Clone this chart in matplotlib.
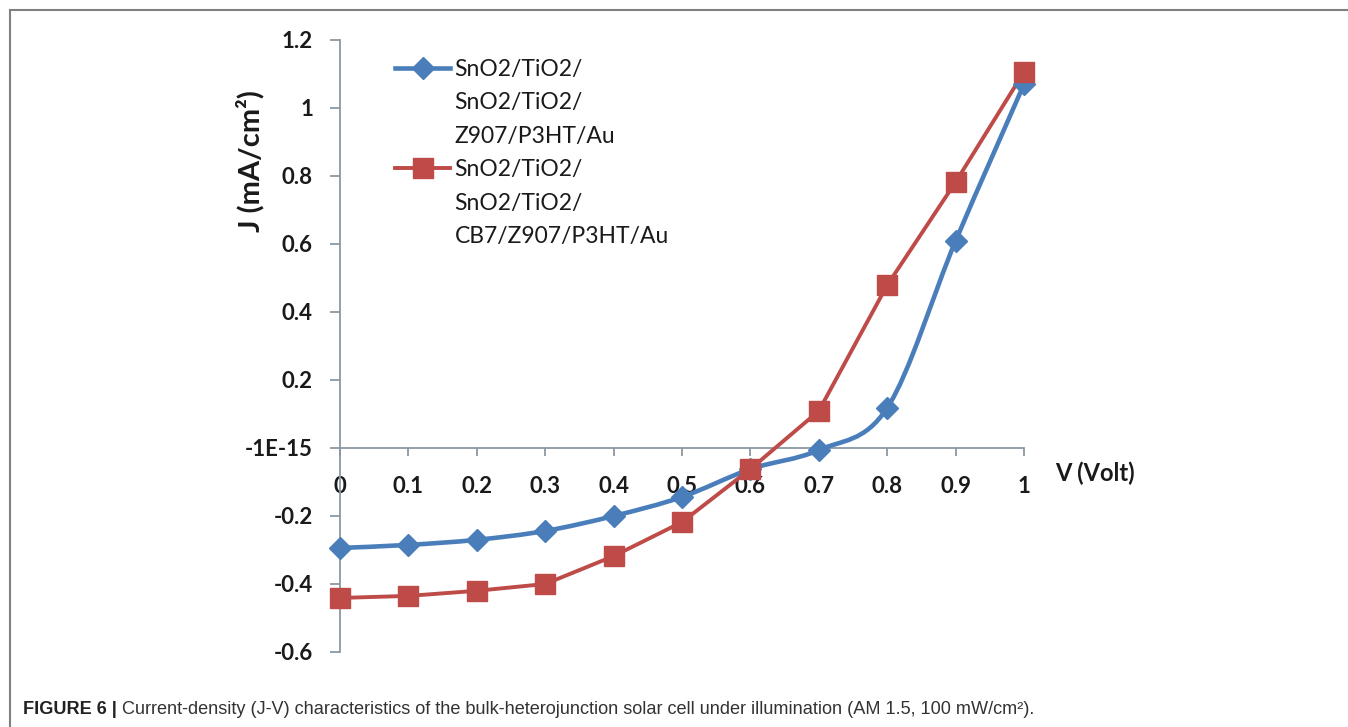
import matplotlib
matplotlib.use("Agg")
import matplotlib.pyplot as plt
from matplotlib.path import Path
from matplotlib.patches import PathPatch
from matplotlib.lines import Line2D
import numpy as np

# ---------------- data ----------------
voltage = [0.0, 0.1, 0.2, 0.3, 0.4, 0.5, 0.6, 0.7, 0.8, 0.9, 1.0]
j_z907 = [-0.294, -0.285, -0.270, -0.244, -0.200, -0.144, -0.062, -0.006, 0.118, 0.609, 1.070]
j_cb7 = [-0.441, -0.435, -0.420, -0.400, -0.318, -0.218, -0.062, 0.109, 0.479, 0.782, 1.106]

series_labels = [
    ["SnO2/TiO2/", "SnO2/TiO2/", "Z907/P3HT/Au"],
    ["SnO2/TiO2/", "SnO2/TiO2/", "CB7/Z907/P3HT/Au"],
]
x_ticks = [0.0, 0.1, 0.2, 0.3, 0.4, 0.5, 0.6, 0.7, 0.8, 0.9, 1.0]
x_tick_labels = ["0", "0.1", "0.2", "0.3", "0.4", "0.5", "0.6", "0.7", "0.8", "0.9", "1"]
y_ticks = [-0.6, -0.4, -0.2, 0.0, 0.2, 0.4, 0.6, 0.8, 1.0, 1.2]
y_tick_labels = ["-0.6", "-0.4", "-0.2", "-1E-15", "0.2", "0.4", "0.6", "0.8", "1", "1.2"]
x_label = "V (Volt)"
y_label = "J (mA/cm²)"
caption_bold = "FIGURE 6 |"
caption_rest = " Current-density (J-V) characteristics of the bulk-heterojunction solar cell under illumination (AM 1.5, 100 mW/cm²)."

BLUE = "#4a7ebb"
RED = "#be4b48"
AXC = "#8a98a4"
W, H = 1348, 727

plt.rcParams["font.family"] = ["Lato", "DejaVu Sans"]

fig = plt.figure(figsize=(W / 100, H / 100), dpi=100)
ax = fig.add_axes([340 / W, 1 - 652 / H, (1024 - 340) / W, (652 - 40) / H])
ax.set_xlim(0, 1)
ax.set_ylim(-0.6, 1.2)


def smooth_path(xs, ys):
    # cubic Bezier through the data points (Excel-like smoothed line)
    pts = np.column_stack([xs, ys])
    n = len(pts)
    verts = [pts[0]]
    codes = [Path.MOVETO]
    for i in range(n - 1):
        p0 = pts[i - 1] if i > 0 else pts[i]
        p1 = pts[i]
        p2 = pts[i + 1]
        p3 = pts[i + 2] if i + 2 < n else pts[i + 1]
        c1 = p1 + (p2 - p0) / 6.0
        c2 = p2 - (p3 - p1) / 6.0
        verts += [c1, c2, p2]
        codes += [Path.CURVE4] * 3
    return Path(verts, codes)


ax.add_patch(PathPatch(smooth_path(voltage, j_z907), facecolor="none",
                       edgecolor=BLUE, lw=3.3, zorder=3, capstyle="round",
                       clip_on=False))
ax.plot(voltage, j_z907, linestyle="none", marker="D", ms=11,
        color=BLUE, mec=BLUE, zorder=4, clip_on=False)

ax.plot(voltage, j_cb7, linestyle="-", lw=2.8, color=RED, zorder=3, clip_on=False)
ax.plot(voltage, j_cb7, linestyle="none", marker="s", ms=14,
        color=RED, mec=RED, zorder=4, clip_on=False)

# spines
for s in ["top", "right"]:
    ax.spines[s].set_visible(False)
ax.spines["left"].set_position(("data", 0))
ax.spines["bottom"].set_position(("data", 0))
for s in ["left", "bottom"]:
    ax.spines[s].set_color(AXC)
    ax.spines[s].set_linewidth(1.3)

ax.set_xticks(x_ticks)
ax.set_xticklabels(x_tick_labels)
ax.set_yticks(y_ticks)
ax.set_yticklabels(y_tick_labels)
ax.tick_params(axis="x", direction="out", length=6, width=1.3, color=AXC,
               pad=14, labelsize=16)
ax.tick_params(axis="y", direction="out", length=7.5, width=1.3, color=AXC,
               pad=12, labelsize=16)
for lab in ax.get_xticklabels() + ax.get_yticklabels():
    lab.set_fontweight("bold")
    lab.set_color("#1a1a1a")

# axis titles
fig.text(1055 / W, 1 - 473 / H, x_label, fontsize=17, fontweight="bold",
         color="#1a1a1a", ha="left", va="center")
fig.text(250 / W, 1 - 161 / H, y_label, fontsize=21, fontweight="bold",
         color="#1a1a1a", ha="center", va="center", rotation=90)

# legend
blank = Line2D([], [], linestyle="none")
h_blue = Line2D([], [], color=BLUE, lw=3.3, marker="D", ms=11)
h_red = Line2D([], [], color=RED, lw=2.8, marker="s", ms=14)
handles = [h_blue, blank, blank, h_red, blank, blank]
labels = series_labels[0] + series_labels[1]
leg = ax.legend(handles, labels, loc="upper left",
                bbox_to_anchor=(395 / W, 1 - 59 / H), bbox_transform=fig.transFigure,
                frameon=False, borderpad=0, borderaxespad=0, handlelength=2.4,
                handletextpad=0.2, labelspacing=0.545, fontsize=16.5, numpoints=1)
for t in leg.get_texts():
    t.set_color("#1a1a1a")

# outer frame (left and top edges)
fig.add_artist(Line2D([9.5 / W, 9.5 / W], [0, 1 - 10 / H], transform=fig.transFigure,
                      color="#808080", lw=1.5))
fig.add_artist(Line2D([9.5 / W, 1], [1 - 10 / H, 1 - 10 / H], transform=fig.transFigure,
                      color="#808080", lw=1.5))

# caption
cap_font = ["Liberation Sans", "DejaVu Sans"]
t1 = fig.text(23 / W, 1 - 710 / H, caption_bold, fontsize=13.1, fontweight="bold",
              family=cap_font, color="#222222", ha="left", va="center")
ax.annotate(caption_rest, xy=(1, 0), xycoords=t1, ha="left", va="bottom",
            fontsize=13.1, family=cap_font, color="#333333", annotation_clip=False)

fig.savefig("out.png", dpi=100)
